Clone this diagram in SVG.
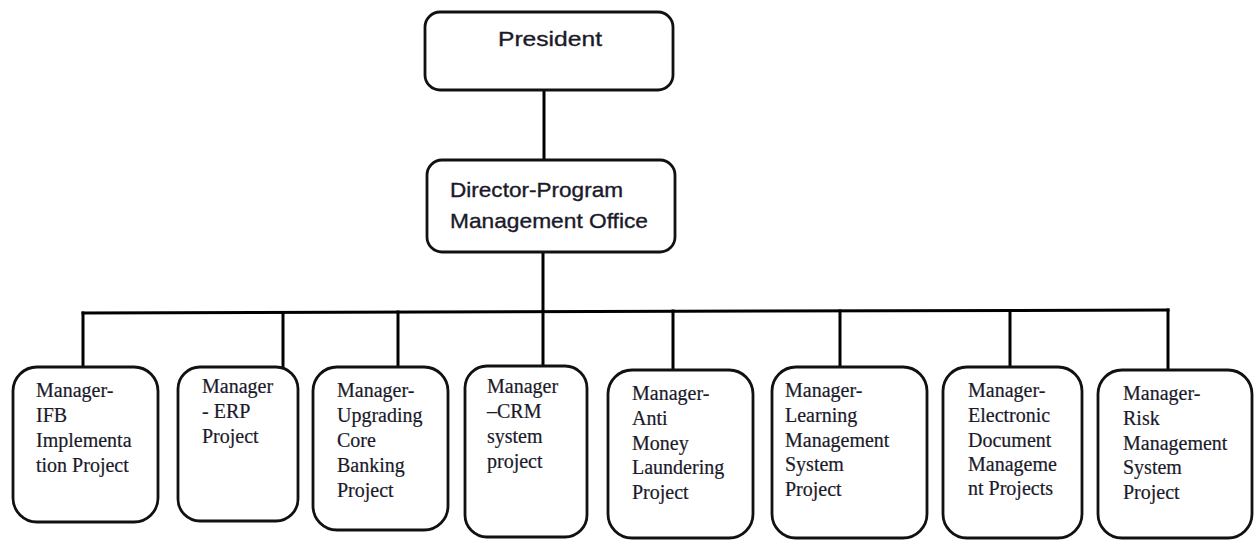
<svg xmlns="http://www.w3.org/2000/svg" width="1254" height="542" viewBox="0 0 1254 542">
<style>
.box{fill:#fff;stroke:#111;stroke-width:2.8}
.top{font-family:"Liberation Sans",Arial,sans-serif;font-size:21px;fill:#1a1a2a;stroke:#1a1a2a;stroke-width:0.35}
.mgr{font-family:"Liberation Serif","Times New Roman",serif;font-size:20px;fill:#1a1a2a;stroke:#1a1a2a;stroke-width:0.2}
.conn{fill:none;stroke:#000;stroke-width:3;stroke-linecap:square}
</style>
<rect width="1254" height="542" fill="#fff"/>
<g id="connectors">
<path class="conn" d="M544,90 V160"/>
<path class="conn" d="M543,252 V366"/>
<path class="conn" d="M83,313 L1168,310"/>
<path class="conn" d="M83,313 V368"/>
<path class="conn" d="M283,312.5 V367"/>
<path class="conn" d="M398,312 V367"/>
<path class="conn" d="M673,311 V370"/>
<path class="conn" d="M840,311 V367"/>
<path class="conn" d="M1010,310.5 V367"/>
<path class="conn" d="M1168,310 V370"/>
</g>
<g id="president">
<rect class="box" x="425" y="12" width="248" height="78" rx="15"/>
<text class="top" x="498" y="46" textLength="104" lengthAdjust="spacingAndGlyphs">President</text>
</g>
<g id="director">
<rect class="box" x="427" y="160" width="248" height="92" rx="15"/>
<text class="top" x="450" y="197" textLength="173" lengthAdjust="spacingAndGlyphs">Director-Program</text>
<text class="top" x="450" y="228" textLength="198" lengthAdjust="spacingAndGlyphs">Management Office</text>
</g>
<g id="mgr-ifb">
<rect class="box" x="13" y="367" width="145" height="155" rx="24"/>
<text class="mgr" x="36" y="397">Manager-</text>
<text class="mgr" x="36" y="422">IFB</text>
<text class="mgr" x="36" y="447">Implementa</text>
<text class="mgr" x="36" y="472">tion Project</text>
</g>
<g id="mgr-erp">
<rect class="box" x="178" y="367" width="120" height="154" rx="22"/>
<text class="mgr" x="202" y="393">Manager</text>
<text class="mgr" x="202" y="418">- ERP</text>
<text class="mgr" x="202" y="443">Project</text>
</g>
<g id="mgr-core">
<rect class="box" x="313" y="367" width="135" height="163" rx="24"/>
<text class="mgr" x="337" y="397">Manager-</text>
<text class="mgr" x="337" y="422">Upgrading</text>
<text class="mgr" x="337" y="447">Core</text>
<text class="mgr" x="337" y="472">Banking</text>
<text class="mgr" x="337" y="497">Project</text>
</g>
<g id="mgr-crm">
<rect class="box" x="465" y="366" width="122" height="171" rx="22"/>
<text class="mgr" x="487" y="393">Manager</text>
<text class="mgr" x="487" y="418">–CRM</text>
<text class="mgr" x="487" y="443">system</text>
<text class="mgr" x="487" y="468">project</text>
</g>
<g id="mgr-aml">
<rect class="box" x="608" y="370" width="145" height="168" rx="24"/>
<text class="mgr" x="632" y="400">Manager-</text>
<text class="mgr" x="632" y="425">Anti</text>
<text class="mgr" x="632" y="450">Money</text>
<text class="mgr" x="632" y="474">Laundering</text>
<text class="mgr" x="632" y="499">Project</text>
</g>
<g id="mgr-lms">
<rect class="box" x="772" y="367" width="155" height="171" rx="24"/>
<text class="mgr" x="785" y="397">Manager-</text>
<text class="mgr" x="785" y="422">Learning</text>
<text class="mgr" x="785" y="447">Management</text>
<text class="mgr" x="785" y="471">System</text>
<text class="mgr" x="785" y="496">Project</text>
</g>
<g id="mgr-edm">
<rect class="box" x="943" y="367" width="139" height="171" rx="24"/>
<text class="mgr" x="968" y="397">Manager-</text>
<text class="mgr" x="968" y="422">Electronic</text>
<text class="mgr" x="968" y="447">Document</text>
<text class="mgr" x="968" y="471">Manageme</text>
<text class="mgr" x="968" y="495">nt Projects</text>
</g>
<g id="mgr-risk">
<rect class="box" x="1098" y="370" width="154" height="168" rx="24"/>
<text class="mgr" x="1123" y="400">Manager-</text>
<text class="mgr" x="1123" y="425">Risk</text>
<text class="mgr" x="1123" y="450">Management</text>
<text class="mgr" x="1123" y="474">System</text>
<text class="mgr" x="1123" y="499">Project</text>
</g>
</svg>
